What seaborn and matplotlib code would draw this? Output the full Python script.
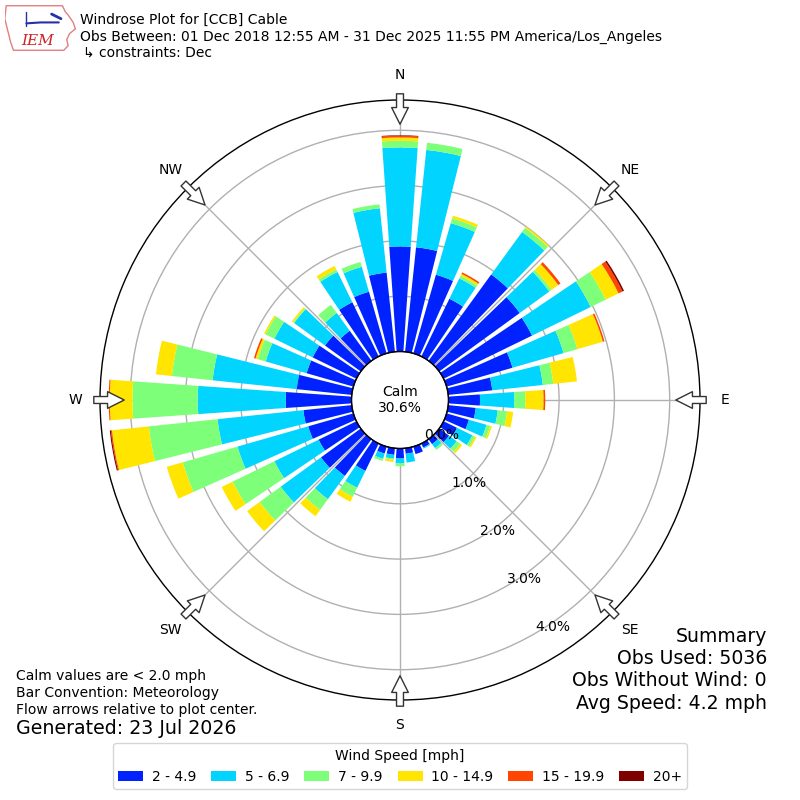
import numpy as np
import matplotlib
matplotlib.use("Agg")
import matplotlib.pyplot as plt
from matplotlib.patches import Patch, Polygon
import seaborn as sns

# direction bins (degrees, meteorological) and percent frequency per speed bin
directions = [0, 10, 20, 30, 40, 50, 60, 70, 80, 90, 100, 110,
              120, 130, 140, 150, 160, 170, 180, 190, 200, 210, 220, 230,
              240, 250, 260, 270, 280, 290, 300, 310, 320, 330, 340, 350]
speed_labels = ["2 - 4.9", "5 - 6.9", "7 - 9.9", "10 - 14.9", "15 - 19.9", "20+"]
speed_colors = ["#0022ff", "#00d4ff", "#7dff7a", "#ffe500", "#ff4600", "#800000"]

pct_2_5 = [1.90, 1.90, 1.48, 1.16, 1.93, 1.80, 1.78, 1.24, 0.80, 0.57, 0.50, 0.42,
           0.27, 0.22, 0.11, 0.08, 0.14, 0.10, 0.18, 0.12, 0.13, 0.55, 0.82, 0.89,
           0.76, 0.85, 0.88, 1.19, 1.00, 0.88, 0.88, 0.80, 0.67, 1.09, 1.16, 1.44]
pct_5_7 = [1.79, 1.77, 0.97, 0.41, 0.95, 0.66, 1.18, 0.96, 0.92, 0.62, 0.40, 0.33,
           0.31, 0.17, 0.09, 0.02, 0.00, 0.16, 0.09, 0.07, 0.10, 0.34, 0.52, 0.90,
           0.89, 1.33, 1.56, 1.59, 1.53, 0.77, 0.77, 0.69, 0.40, 0.61, 0.47, 1.17]
pct_7_10 = [0.12, 0.13, 0.09, 0.05, 0.09, 0.05, 0.30, 0.26, 0.19, 0.20, 0.17, 0.07,
            0.05, 0.08, 0.04, 0.00, 0.00, 0.00, 0.05, 0.02, 0.04, 0.18, 0.24, 0.47,
            0.84, 1.03, 1.25, 1.18, 0.74, 0.15, 0.18, 0.02, 0.18, 0.05, 0.09, 0.07]
pct_10_15 = [0.06, 0.00, 0.05, 0.04, 0.03, 0.15, 0.26, 0.48, 0.43, 0.33, 0.11, 0.03,
             0.03, 0.04, 0.00, 0.00, 0.00, 0.00, 0.00, 0.04, 0.00, 0.10, 0.14, 0.28,
             0.22, 0.30, 0.67, 0.41, 0.29, 0.04, 0.03, 0.03, 0.00, 0.07, 0.00, 0.00]
pct_15_20 = [0.03, 0.00, 0.00, 0.03, 0.00, 0.05, 0.08, 0.03, 0.00, 0.03, 0.00, 0.00,
             0.00, 0.00, 0.00, 0.00, 0.00, 0.00, 0.00, 0.00, 0.00, 0.00, 0.00, 0.00,
             0.00, 0.00, 0.02, 0.02, 0.00, 0.03, 0.00, 0.00, 0.00, 0.00, 0.00, 0.00]
pct_20_up = [0.01, 0.00, 0.00, 0.00, 0.00, 0.00, 0.03, 0.00, 0.00, 0.00, 0.00, 0.00,
             0.00, 0.00, 0.00, 0.00, 0.00, 0.00, 0.00, 0.00, 0.00, 0.00, 0.00, 0.00,
             0.00, 0.00, 0.02, 0.00, 0.00, 0.00, 0.00, 0.00, 0.00, 0.00, 0.00, 0.00]

compass = ["N", "NE", "E", "SE", "S", "SW", "W", "NW"]
compass_deg = [0, 45, 90, 135, 180, 225, 270, 315]
rings = [0, 1, 2, 3, 4]
calm_pct = 30.6

sns.set_style("white", {"axes.edgecolor": "black", "text.color": "black"})
plt.rcParams["font.family"] = ["DejaVu Sans"]

calm_r = 0.877   # radius of calm circle in percent units
rmax = 4.548

fig = plt.figure(figsize=(8, 8), dpi=100)
ax = fig.add_axes([0.125, 0.125, 0.75, 0.75], projection="polar")
ax.set_theta_zero_location("N")
ax.set_theta_direction(-1)
ax.set_rorigin(-calm_r)
ax.set_ylim(0, rmax)

theta = np.radians(directions)
series = [pct_2_5, pct_5_7, pct_7_10, pct_10_15, pct_15_20, pct_20_up]
bottom = np.zeros(len(directions))
for vals, col in zip(series, sns.color_palette(speed_colors)):
    vals = np.array(vals)
    ax.bar(theta, vals, width=np.radians(8), bottom=bottom, color=col,
           edgecolor="none", linewidth=0, zorder=1)
    bottom += vals

ax.set_rticks(rings)
ax.set_yticklabels([])
ax.set_xticks(np.radians(compass_deg))
ax.set_xticklabels([])
ax.grid(True, color="#b0b0b0", linewidth=1)
ax.spines["polar"].set_color("black")
ax.spines["polar"].set_linewidth(1)

# calm circle
tt = np.linspace(0, 2 * np.pi, 361)
ax.plot(tt, np.zeros_like(tt), color="black", lw=1, zorder=3, clip_on=False)
fig.text(0.5, 0.5, f"Calm\n{calm_pct}%", ha="center", va="center", fontsize=10)

for r in rings:
    ax.text(np.radians(150), r, f"{r:.1f}%", ha="left", va="bottom", fontsize=10)

for lab, d in zip(compass, compass_deg):
    ax.text(np.radians(d), 5.0, lab, ha="center", va="center", fontsize=10)
    ax.annotate("", xy=(np.radians(d), 4.11), xytext=(np.radians(d), 4.66),
                arrowprops=dict(arrowstyle="simple,head_length=1.2,head_width=1.2,tail_width=0.5",
                                fc="white", ec="#333333", lw=1, shrinkA=0, shrinkB=0,
                                mutation_scale=10),
                annotation_clip=False, zorder=4)

# header
fig.text(80 / 800, 1 - 20 / 800, "Windrose Plot for [CCB] Cable", ha="left", va="center", fontsize=10)
fig.text(80 / 800, 1 - 37 / 800,
         "Obs Between: 01 Dec 2018 12:55 AM - 31 Dec 2025 11:55 PM America/Los_Angeles",
         ha="left", va="center", fontsize=10)
fig.text(83 / 800, 1 - 53 / 800, "↳ constraints: Dec", ha="left", va="center", fontsize=10)

# logo
lax = fig.add_axes([0.006, 0.936, 0.09, 0.058])
lax.set_xlim(0, 1)
lax.set_ylim(0, 1)
lax.axis("off")
iowa = [(0.02, 0.98), (0.80, 0.98), (0.84, 0.85), (0.88, 0.78), (0.95, 0.62), (0.98, 0.48),
        (0.90, 0.38), (0.86, 0.25), (0.88, 0.12), (0.82, 0.02), (0.12, 0.02), (0.08, 0.2),
        (0.04, 0.45), (0.0, 0.7)]
lax.add_patch(Polygon(iowa, closed=True, fill=False, ec="#e08080", lw=1))
lax.plot([0.3, 0.5, 0.75], [0.6, 0.62, 0.62], color="#2233aa", lw=1.5)
lax.plot([0.3, 0.3], [0.55, 0.85], color="#2233aa", lw=1)
lax.plot([0.65, 0.78], [0.8, 0.7], color="#2233aa", lw=2)
lax.text(0.45, 0.22, "IEM", color="#cc2222", fontsize=11, fontstyle="italic",
         family="serif", ha="center", va="center")

# footnotes
fig.text(16 / 800, 1 - 676 / 800, "Calm values are < 2.0 mph", ha="left", va="center", fontsize=10)
fig.text(16 / 800, 1 - 693 / 800, "Bar Convention: Meteorology", ha="left", va="center", fontsize=10)
fig.text(16 / 800, 1 - 710 / 800, "Flow arrows relative to plot center.", ha="left", va="center", fontsize=10)
fig.text(16 / 800, 1 - 729 / 800, "Generated: 23 Jul 2026", ha="left", va="center", fontsize=13.7)

summary = ["Summary", "Obs Used: 5036", "Obs Without Wind: 0", "Avg Speed: 4.2 mph"]
for i, s in enumerate(summary):
    fig.text(767 / 800, 1 - (636 + 22.5 * i) / 800, s, ha="right", va="center", fontsize=13.6)

handles = [Patch(facecolor=c, edgecolor="none") for c in speed_colors]
fig.legend(handles, speed_labels, loc="lower center", bbox_to_anchor=(0.5, 0.0135), ncol=6,
           title="Wind Speed [mph]", fontsize=10, title_fontsize=10, frameon=True,
           edgecolor="#cccccc", fancybox=True, borderaxespad=0,
           handlelength=1.8, handletextpad=0.6, columnspacing=1.1)

fig.savefig("out.png", dpi=100)
